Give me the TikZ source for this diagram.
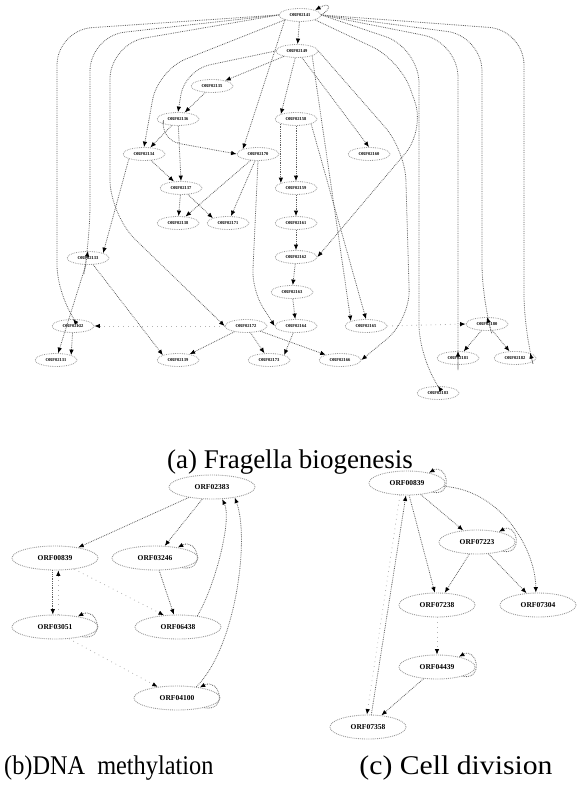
\documentclass[tikz,border=0pt]{standalone}
\usepackage{fontspec}
\setmainfont{Liberation Serif}
\usetikzlibrary{arrows.meta, positioning, shapes}

\tikzset{
  orf/.style={ellipse, draw=gray!80, densely dotted, line width=0.8pt,
    minimum width=42pt, minimum height=13pt, inner sep=0pt,
    font=\fontsize{4.5}{4.5}\selectfont\bfseries},
  gene/.style={ellipse, draw=gray!80, densely dotted, line width=0.9pt,
    minimum width=86pt, minimum height=24pt, inner sep=0pt,
    font=\fontsize{7.5}{7.5}\selectfont\bfseries},
  link/.style={densely dotted, gray!75!black, line width=0.8pt,
    -{Latex[black, length=5.5pt, width=4.5pt]}},
  faint/.style={link, loosely dotted, gray!60},
  caption/.style={font=\fontsize{27}{27}\selectfont, inner sep=0pt}
}

\begin{document}
\begin{tikzpicture}[x=1pt, y=1pt]

  \useasboundingbox (0,0) rectangle (576,-797);

  \node[orf] (n1)  at (300, -15) {ORF02141};
  \node[orf] (n2)  at (297, -51) {ORF02149};
  \node[orf] (n3)  at (212, -86) {ORF02135};
  \node[orf] (n4)  at (178,-119) {ORF02136};
  \node[orf] (n5)  at (296,-119) {ORF02158};
  \node[orf] (n6)  at (144,-154) {ORF02134};
  \node[orf] (n7)  at (258,-154) {ORF02170};
  \node[orf] (n8)  at (369,-154) {ORF02160};
  \node[orf] (n9)  at (181,-188) {ORF02137};
  \node[orf] (n10) at (296,-188) {ORF02159};
  \node[orf] (n11) at (178,-223) {ORF02138};
  \node[orf] (n12) at (228,-223) {ORF02171};
  \node[orf] (n13) at (296,-223) {ORF02161};
  \node[orf] (n14) at (296,-257) {ORF02162};
  \node[orf] (n15) at ( 88,-258) {ORF02133};
  \node[orf] (n16) at (292,-292) {ORF02163};
  \node[orf] (n17) at ( 73,-326) {ORF02132};
  \node[orf] (n18) at (246,-326) {ORF02172};
  \node[orf] (n19) at (296,-326) {ORF02164};
  \node[orf] (n20) at (366,-326) {ORF02165};
  \node[orf] (n21) at (487,-324) {ORF02180};
  \node[orf] (n22) at ( 56,-360) {ORF02131};
  \node[orf] (n23) at (178,-360) {ORF02139};
  \node[orf] (n24) at (269,-360) {ORF02173};
  \node[orf] (n25) at (340,-360) {ORF02166};
  \node[orf] (n26) at (458,-358) {ORF02181};
  \node[orf] (n27) at (515,-358) {ORF02182};
  \node[orf] (n28) at (438,-393) {ORF02183};

  % long arcs out of the top gene
  \draw[link, rounded corners=35pt] (n1.west) -- (57,-30) -- (57,-300) -- (n17.north);
  \draw[link, rounded corners=35pt] (n1.west) -- (90,-36) -- (90,-240) -- (n15.north);
  \draw[link, rounded corners=35pt] (n1.west) -- (110,-44) -- (110,-215) -- (n18.west);
  \draw[link, rounded corners=30pt] (n1.south west) -- (158,-70) -- (n6.north);
  \draw[link, rounded corners=35pt] (n1.east) -- (524,-30) -- (524,-330) -- (n27.north east);
  \draw[link, rounded corners=35pt] (n1.east) -- (482,-36) -- (482,-300) -- (n21.north);
  \draw[link, rounded corners=35pt] (n1.east) -- (458,-42) -- (458,-335) -- (n26.north);
  \draw[link, rounded corners=35pt] (n1.east) -- (419,-48) -- (419,-360) -- (n28.north);
  \draw[link, rounded corners=30pt] (n1.south east) -- (400,-60) -- (425,-130) -- (n14.east);
  \draw[link, rounded corners=30pt] (n2.east) -- (405,-150) -- (410,-320) -- (n25.east);
  \draw[link] (n1.east) .. controls +(12,8) and +(14,8) .. (n1.north east);

  \draw[link] (n1) -- (n2);
  \draw[link] (n1.south west) -- (n7.north west);
  \draw[link] (n2) -- (n3);
  \draw[link, rounded corners=25pt] (n2.west) -- (185,-70) -- (n4.north);
  \draw[link] (n3) -- (n4);
  \draw[link] (n2) -- (n5.north west);
  \draw[link] (n2) -- (n8.north);
  \draw[link] (n2.south east) -- (n20.north west);
  \draw[link] (n4) -- (n6);
  \draw[link, rounded corners=20pt] (n4.south west) -- (160,-140) -- (n7.west);
  \draw[link] (n4) -- (n9.north);
  \draw[link] (n6) -- (n9);
  \draw[link] (n6.south west) -- (n15.north east);
  \draw[link] (n5.south west) -- (n10.north west);
  \draw[link] (n5.south) -- (n10.north);
  \draw[link] (n5.south east) -- (n20.north);
  \draw[link] (n7) -- (n11);
  \draw[link] (n7) -- (n12);
  \draw[link] (n9) -- (n12.north west);
  \draw[link] (n9) -- (n11);
  \draw[link, rounded corners=20pt] (n7.south) -- (252,-290) -- (n19.west);
  \draw[link] (n10) -- (n13);
  \draw[link] (n13) -- (n14);
  \draw[link] (n14) -- (n16);
  \draw[link] (n16) -- (n19);
  \draw[link] (n15) -- (n22);
  \draw[link] (n17) -- (n22.north east);
  \draw[link] (n15) -- (n23.north west);
  \draw[link] (n18) -- (n23);
  \draw[link] (n18) -- (n24);
  \draw[link] (n18) -- (n25);
  \draw[link] (n19) -- (n24.north east);
  \draw[faint] (n18.west) -- (n17.east);
  \draw[faint] (n20.east) -- (n21.west);
  \draw[link] (n21) -- (n26);
  \draw[link] (n21) -- (n27);

  \node[caption] (capa) at (290,-462) {(a) Fragella biogenesis};

  \node[gene] (b1) at (212,-487) {ORF02383};
  \node[gene] (b2) at ( 55,-558) {ORF00839};
  \node[gene] (b3) at (155,-558) {ORF03246};
  \node[gene] (b4) at ( 55,-627) {ORF03051};
  \node[gene] (b5) at (178,-627) {ORF06438};
  \node[gene] (b6) at (177,-698) {ORF04100};

  \draw[link] (b1) -- (b2);
  \draw[link] (b1) -- (b3);
  \draw[link] (b3.-20) .. controls +(25,-4) and +(20,10) .. (b3.25);
  \draw[link] (b2.-100) -- (b4.100);
  \draw[faint] (b4.75) -- (b2.-75);
  \draw[faint] (b2.-30) -- (b5.140);
  \draw[link] (b3) -- (b5);
  \draw[link] (b4.-20) .. controls +(25,-4) and +(20,10) .. (b4.25);
  \draw[faint] (b4.-40) -- (b6.150);
  \draw[link] (b6.-20) .. controls +(25,-4) and +(20,10) .. (b6.25);
  \draw[link] (b5.30) .. controls +(18,30) and +(10,-20) .. (b1.-50);
  \draw[link] (b6.30) .. controls +(40,40) and +(15,-40) .. (b1.-25);

  \node[caption, anchor=west, xscale=0.9] (capb) at (4,-768) {(b)DNA\ \ methylation};

  \node[gene, minimum width=76pt] (c1) at (407,-483) {ORF00839};
  \node[gene, minimum width=76pt] (c2) at (477,-542) {ORF07223};
  \node[gene, minimum width=76pt] (c3) at (437,-605) {ORF07238};
  \node[gene, minimum width=76pt] (c4) at (538,-605) {ORF07304};
  \node[gene, minimum width=76pt] (c5) at (437,-667) {ORF04439};
  \node[gene, minimum width=76pt] (c6) at (368,-727) {ORF07358};

  \draw[link] (c1.-20) .. controls +(22,-4) and +(18,10) .. (c1.25);
  \draw[link] (c1) -- (c2);
  \draw[link] (c1.-80) -- (c3.100);
  \draw[link] (c1.-5) .. controls +(60,-5) and +(0,40) .. (c4.100);
  \draw[link] (c2.-20) .. controls +(22,-4) and +(18,10) .. (c2.25);
  \draw[link] (c2) -- (c3);
  \draw[link] (c2) -- (c4);
  \draw[faint] (c3) -- (c5);
  \draw[link] (c5.-20) .. controls +(22,-4) and +(18,10) .. (c5.25);
  \draw[link] (c5) -- (c6);
  \draw[faint] (c1.-120) -- (c6.95);
  \draw[link] (c6.75) -- (c1.-95);

  \node[caption, xscale=1.1] (capc) at (456,-768) {(c) Cell division};

\end{tikzpicture}
\end{document}
